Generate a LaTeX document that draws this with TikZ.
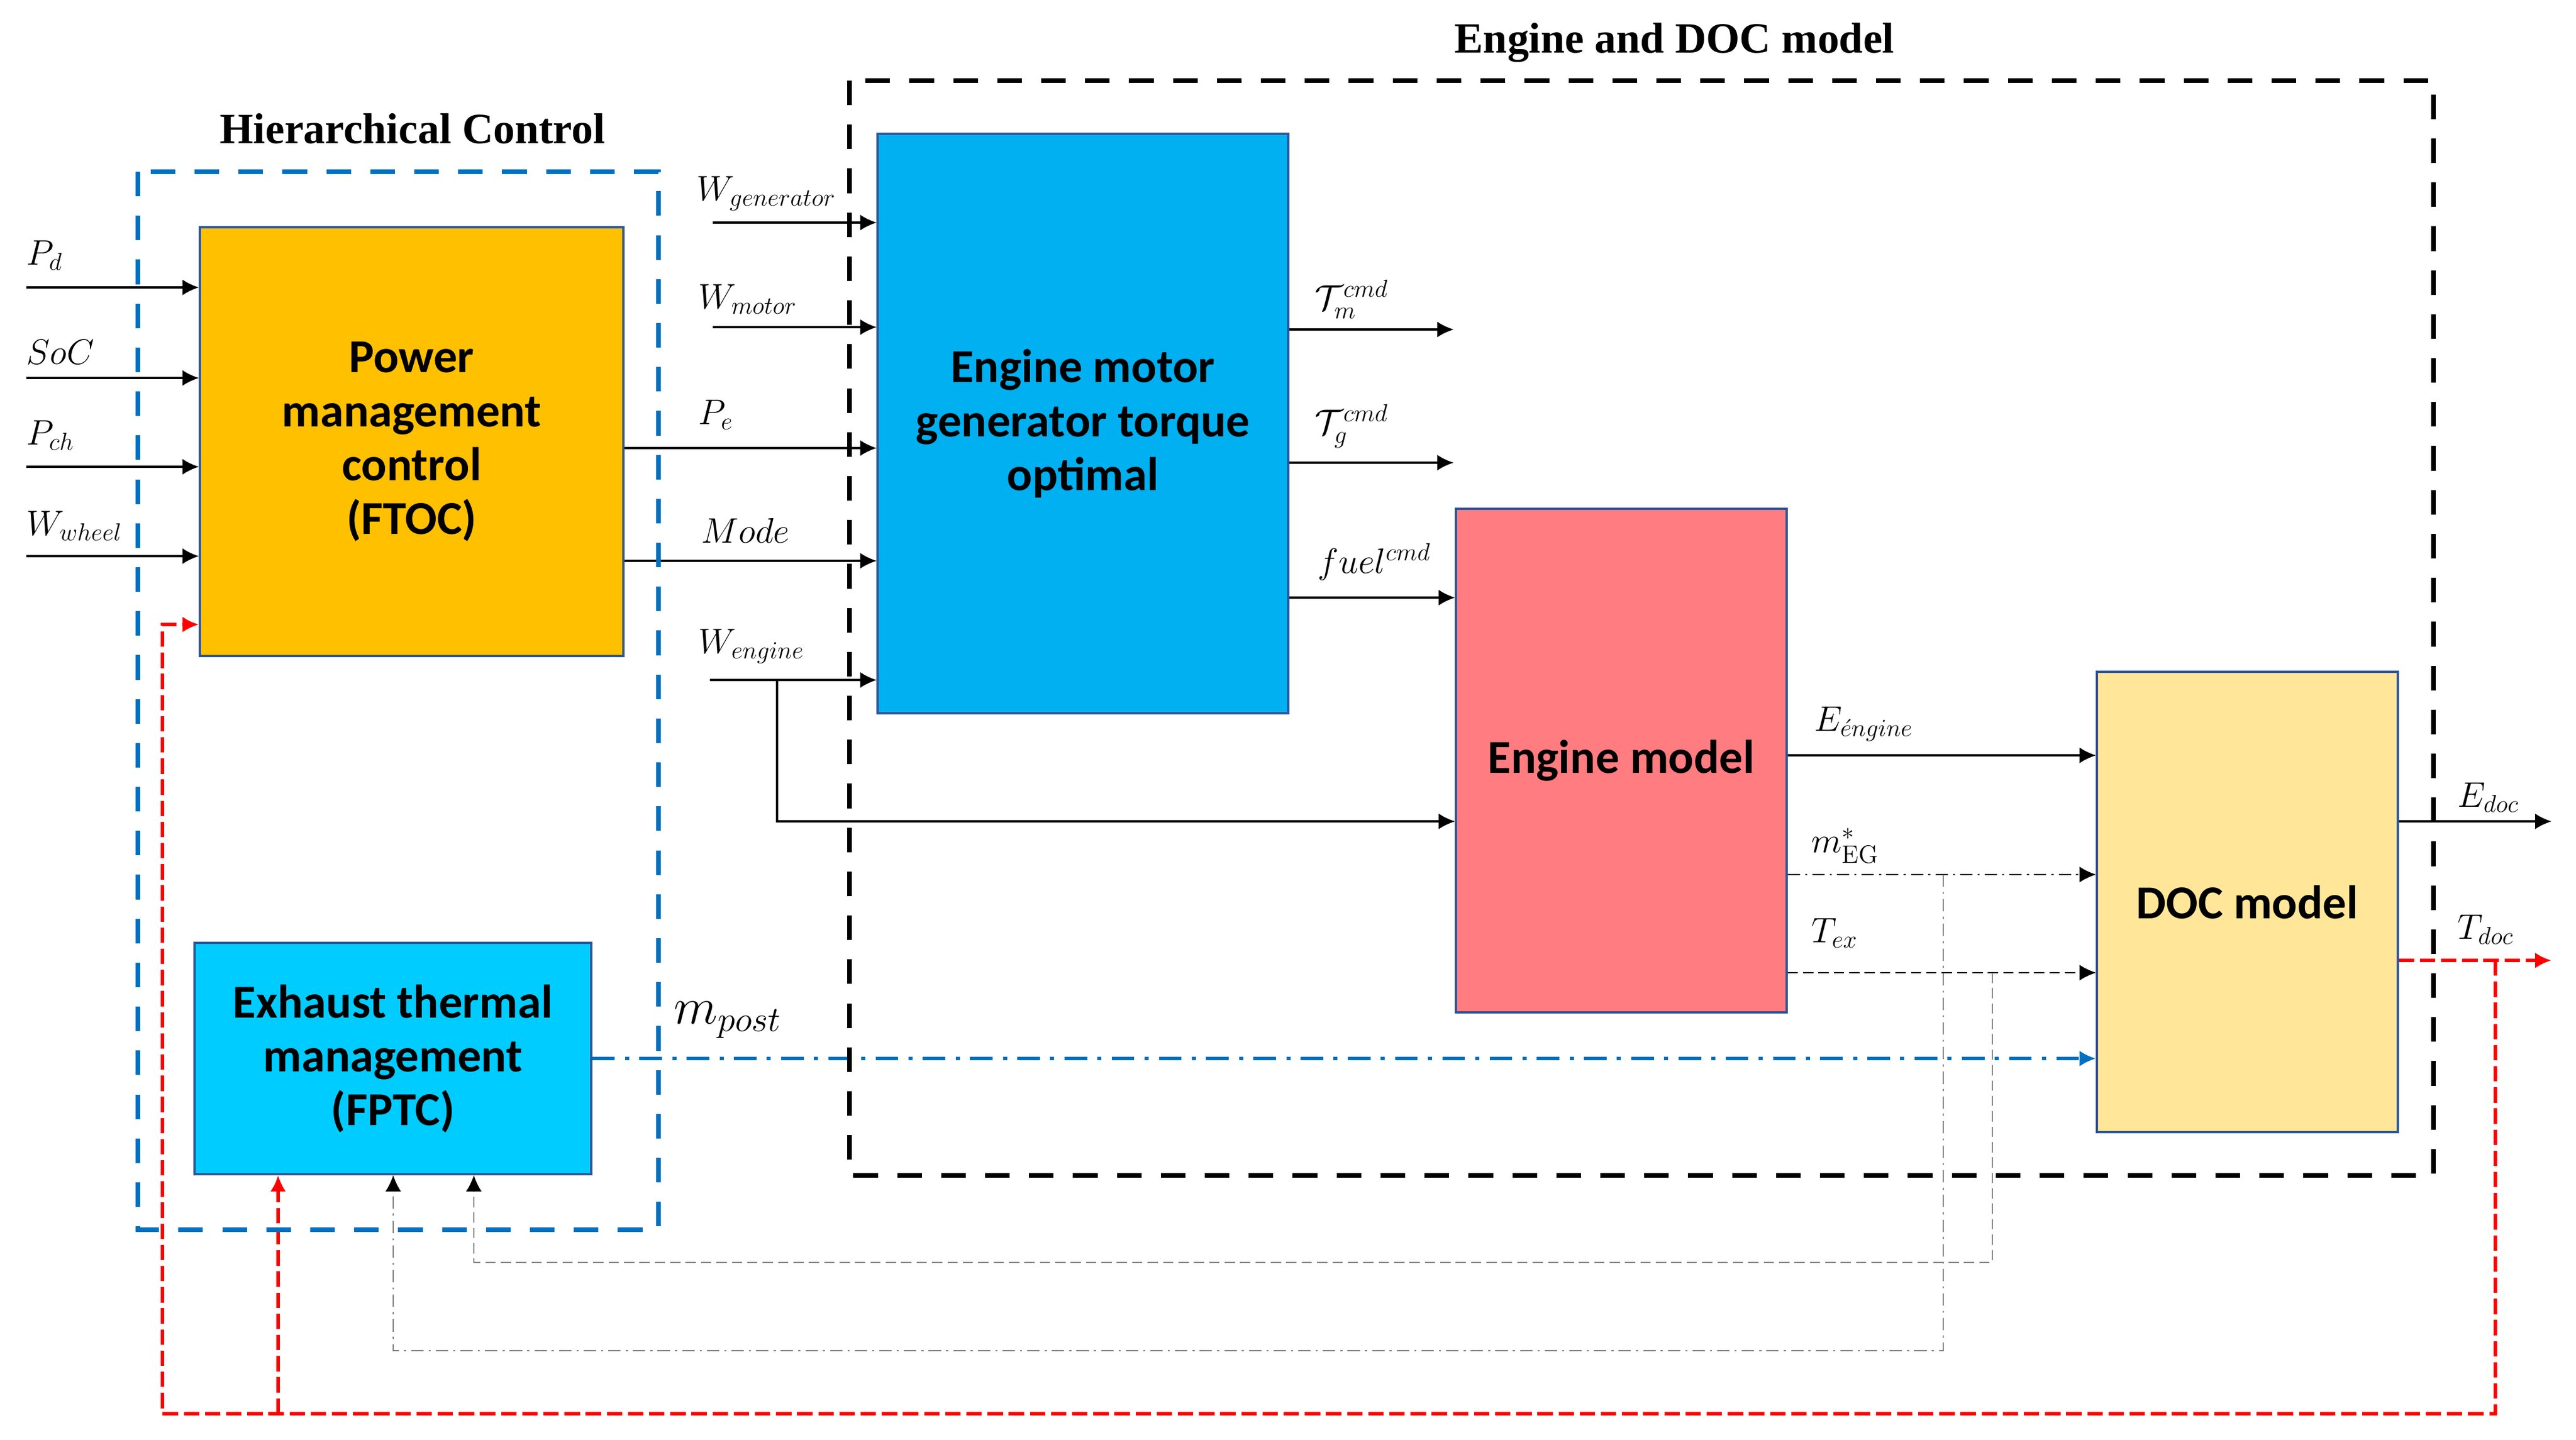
\documentclass[tikz,border=0pt]{standalone}
\usepackage{fontspec}
\usepackage{amsmath}
\usepackage{tikz}
\usetikzlibrary{arrows.meta}
\usetikzlibrary{positioning}
\newfontfamily\boxfont{Carlito}
\newfontfamily\headfont{Liberation Serif}
\definecolor{mblue}{HTML}{0070C0}
\definecolor{mgold}{HTML}{FFC000}
\definecolor{msky}{HTML}{00B0F0}
\definecolor{mcyan}{HTML}{00CCFF}
\definecolor{mpink}{HTML}{FF7C80}
\definecolor{mcream}{HTML}{FFE699}
\definecolor{medge}{HTML}{2F5597}
\definecolor{mgrey}{HTML}{808080}
\definecolor{mred}{HTML}{FF0000}
\tikzset{blk/.style = {draw = medge, line width = 0.9pt, inner sep = 0, align = center,
    font = \boxfont\bfseries\fontsize{23}{26.2}\selectfont}}
\tikzset{lbl/.style = {anchor = west, inner sep = 0, font = \fontsize{17.5}{21}\selectfont}}
\tikzset{head/.style = {font = \headfont\bfseries\fontsize{21}{25}\selectfont}}
\tikzset{tip/.style = {-{Latex[length = 0.28cm, width = 0.27cm, color = #1]}}, tip/.default = black}
\tikzset{sig/.style = {line width = 0.9pt, tip}}
\tikzset{frame/.style = {line width = 2.5pt, dash pattern = on 12pt off 9.4pt}}
\tikzset{dotdash/.style = {line width = 0.7pt, tip, dash pattern = on 6pt off 2.5pt on 1pt off 2.5pt}}
\tikzset{shortdash/.style = {line width = 0.7pt, tip, dash pattern = on 5pt off 2.5pt}}
\tikzset{post/.style = {mblue, line width = 1.7pt, tip = mblue,
    dash pattern = on 11pt off 5pt on 2pt off 5pt}}
\tikzset{fback/.style = {mred, line width = 1.8pt, tip = mred, dash pattern = on 7.5pt off 2.8pt}}

\begin{document}
\begin{tikzpicture}
    \useasboundingbox (0, 0) rectangle (44.09, -24.64);

    \node [head] (hctitle) at (7.06, -2.2) {Hierarchical Control};
    \node [head] (edtitle) at (28.66, -0.73) {Engine and DOC model};

    \node [blk, fill = mgold, minimum width = 7.25cm, minimum height = 7.34cm] (pmc)
      at (7.045, -7.56) {Power\\management\\control\\(FTOC)};
    \node [blk, fill = mcyan, minimum width = 6.79cm, minimum height = 3.96cm] (etm)
      at (6.725, -18.12) {Exhaust thermal\\management\\(FPTC)};
    \node [blk, fill = msky, minimum width = 7.03cm, minimum height = 9.92cm] (emg)
      at (18.535, -7.25) {Engine motor\\generator torque\\optimal};
    \node [blk, fill = mpink, minimum width = 5.66cm, minimum height = 8.62cm] (eng)
      at (27.75, -13.02) {Engine model};
    \node [blk, fill = mcream, minimum width = 5.15cm, minimum height = 7.88cm] (doc)
      at (38.465, -15.44) {DOC model};

    \coordinate (iPd) at (0.45, -4.92);
    \coordinate (iSoC) at (0.45, -6.47);
    \coordinate (iPch) at (0.45, -7.99);
    \coordinate (iWw) at (0.45, -9.52);
    \draw [sig] (iPd) -- (iPd -| pmc.west);
    \draw [sig] (iSoC) -- (iSoC -| pmc.west);
    \draw [sig] (iPch) -- (iPch -| pmc.west);
    \draw [sig] (iWw) -- (iWw -| pmc.west);
    \node [lbl] (lPd) at (0.45, -4.37) {$P_d$};
    \node [lbl] (lSoC) at (0.45, -6.03) {$SoC$};
    \node [lbl] (lPch) at (0.45, -7.45) {$P_{ch}$};
    \node [lbl] (lWw) at (0.45, -9.0) {$W_{wheel}$};

    \coordinate (iWg) at (12.2, -3.81);
    \coordinate (iWm) at (12.2, -5.60);
    \coordinate (iWe) at (12.15, -11.64);
    \draw [sig] (iWg) -- (iWg -| emg.west);
    \draw [sig] (iWm) -- (iWm -| emg.west);
    \draw [sig] (pmc.east |- 0, -7.67) -- (emg.west |- 0, -7.67);
    \draw [sig] (pmc.east |- 0, -9.60) -- (emg.west |- 0, -9.60);
    \draw [sig] (iWe) -- (iWe -| emg.west);
    \draw [sig] (13.30, -11.64) -- (13.30, -14.06) -- (eng.west |- 0, -14.06);
    \node [lbl] (lWg) at (11.92, -3.31) {$W_{generator}$};
    \node [lbl] (lWm) at (11.95, -5.12) {$W_{motor}$};
    \node [lbl] (lPe) at (11.95, -7.10) {$P_e$};
    \node [lbl] (lMode) at (12.0, -9.08) {$Mode$};
    \node [lbl] (lWe) at (11.95, -11.06) {$W_{engine}$};

    \coordinate (oTm) at (24.88, -5.64);
    \coordinate (oTg) at (24.88, -7.92);
    \draw [sig] (oTm -| emg.east) -- (oTm);
    \draw [sig] (oTg -| emg.east) -- (oTg);
    \draw [sig] (emg.east |- 0, -10.23) -- (eng.west |- 0, -10.23);
    \node [lbl] (lTm) at (22.5, -5.12) {$\mathcal{T}_m^{cmd}$};
    \node [lbl] (lTg) at (22.5, -7.29) {$\mathcal{T}_g^{cmd}$};
    \node [lbl] (lfuel) at (22.55, -9.62) {$fuel^{cmd}$};

    \draw [sig] (eng.east |- 0, -12.93) -- (doc.west |- 0, -12.93);
    \draw [dotdash] (eng.east |- 0, -14.97) -- (doc.west |- 0, -14.97);
    \draw [shortdash] (eng.east |- 0, -16.65) -- (doc.west |- 0, -16.65);
    \node [lbl] (lEe) at (31.05, -12.39) {$E_{\acute{e}ngine}$};
    \node [lbl] (lmEG) at (31.0, -14.48) {$m_{\mathrm{EG}}^{*}$};
    \node [lbl] (lTex) at (31.0, -15.97) {$T_{ex}$};

    \draw [dotdash, mgrey] (33.26, -14.97) -- (33.26, -23.12) -- (6.73, -23.12)
      -- (6.73, 0 |- etm.south);
    \draw [shortdash, mgrey] (34.10, -16.65) -- (34.10, -21.61) -- (8.11, -21.61)
      -- (8.11, 0 |- etm.south);

    \draw [post] (etm.east) -- (etm.east -| doc.west);
    \node [lbl, font = \fontsize{23}{27}\selectfont] (lmpost) at (11.53, -17.46) {$m_{post}$};

    \coordinate (oEdoc) at (43.67, -14.06);
    \coordinate (oTdoc) at (43.67, -16.44);
    \draw [sig] (oEdoc -| doc.east) -- (oEdoc);
    \draw [fback] (oTdoc -| doc.east) -- (oTdoc);
    \node [lbl] (lEdoc) at (42.06, -13.65) {$E_{doc}$};
    \node [lbl] (lTdoc) at (42.06, -15.91) {$T_{doc}$};

    \coordinate (rsplit) at (42.71, -16.44);
    \draw [fback] (rsplit) -- (42.71, -24.20) -- (2.78, -24.20) -- (2.78, -10.69)
      -- (pmc.west |- 0, -10.69);
    \draw [fback] (4.76, -24.20) -- (4.76, 0 |- etm.south);

    \draw [frame, mblue] (2.36, -2.94) rectangle (11.27, -21.05);
    \draw [frame] (14.54, -1.38) rectangle (41.65, -20.12);
  \end{tikzpicture}
\end{document}
